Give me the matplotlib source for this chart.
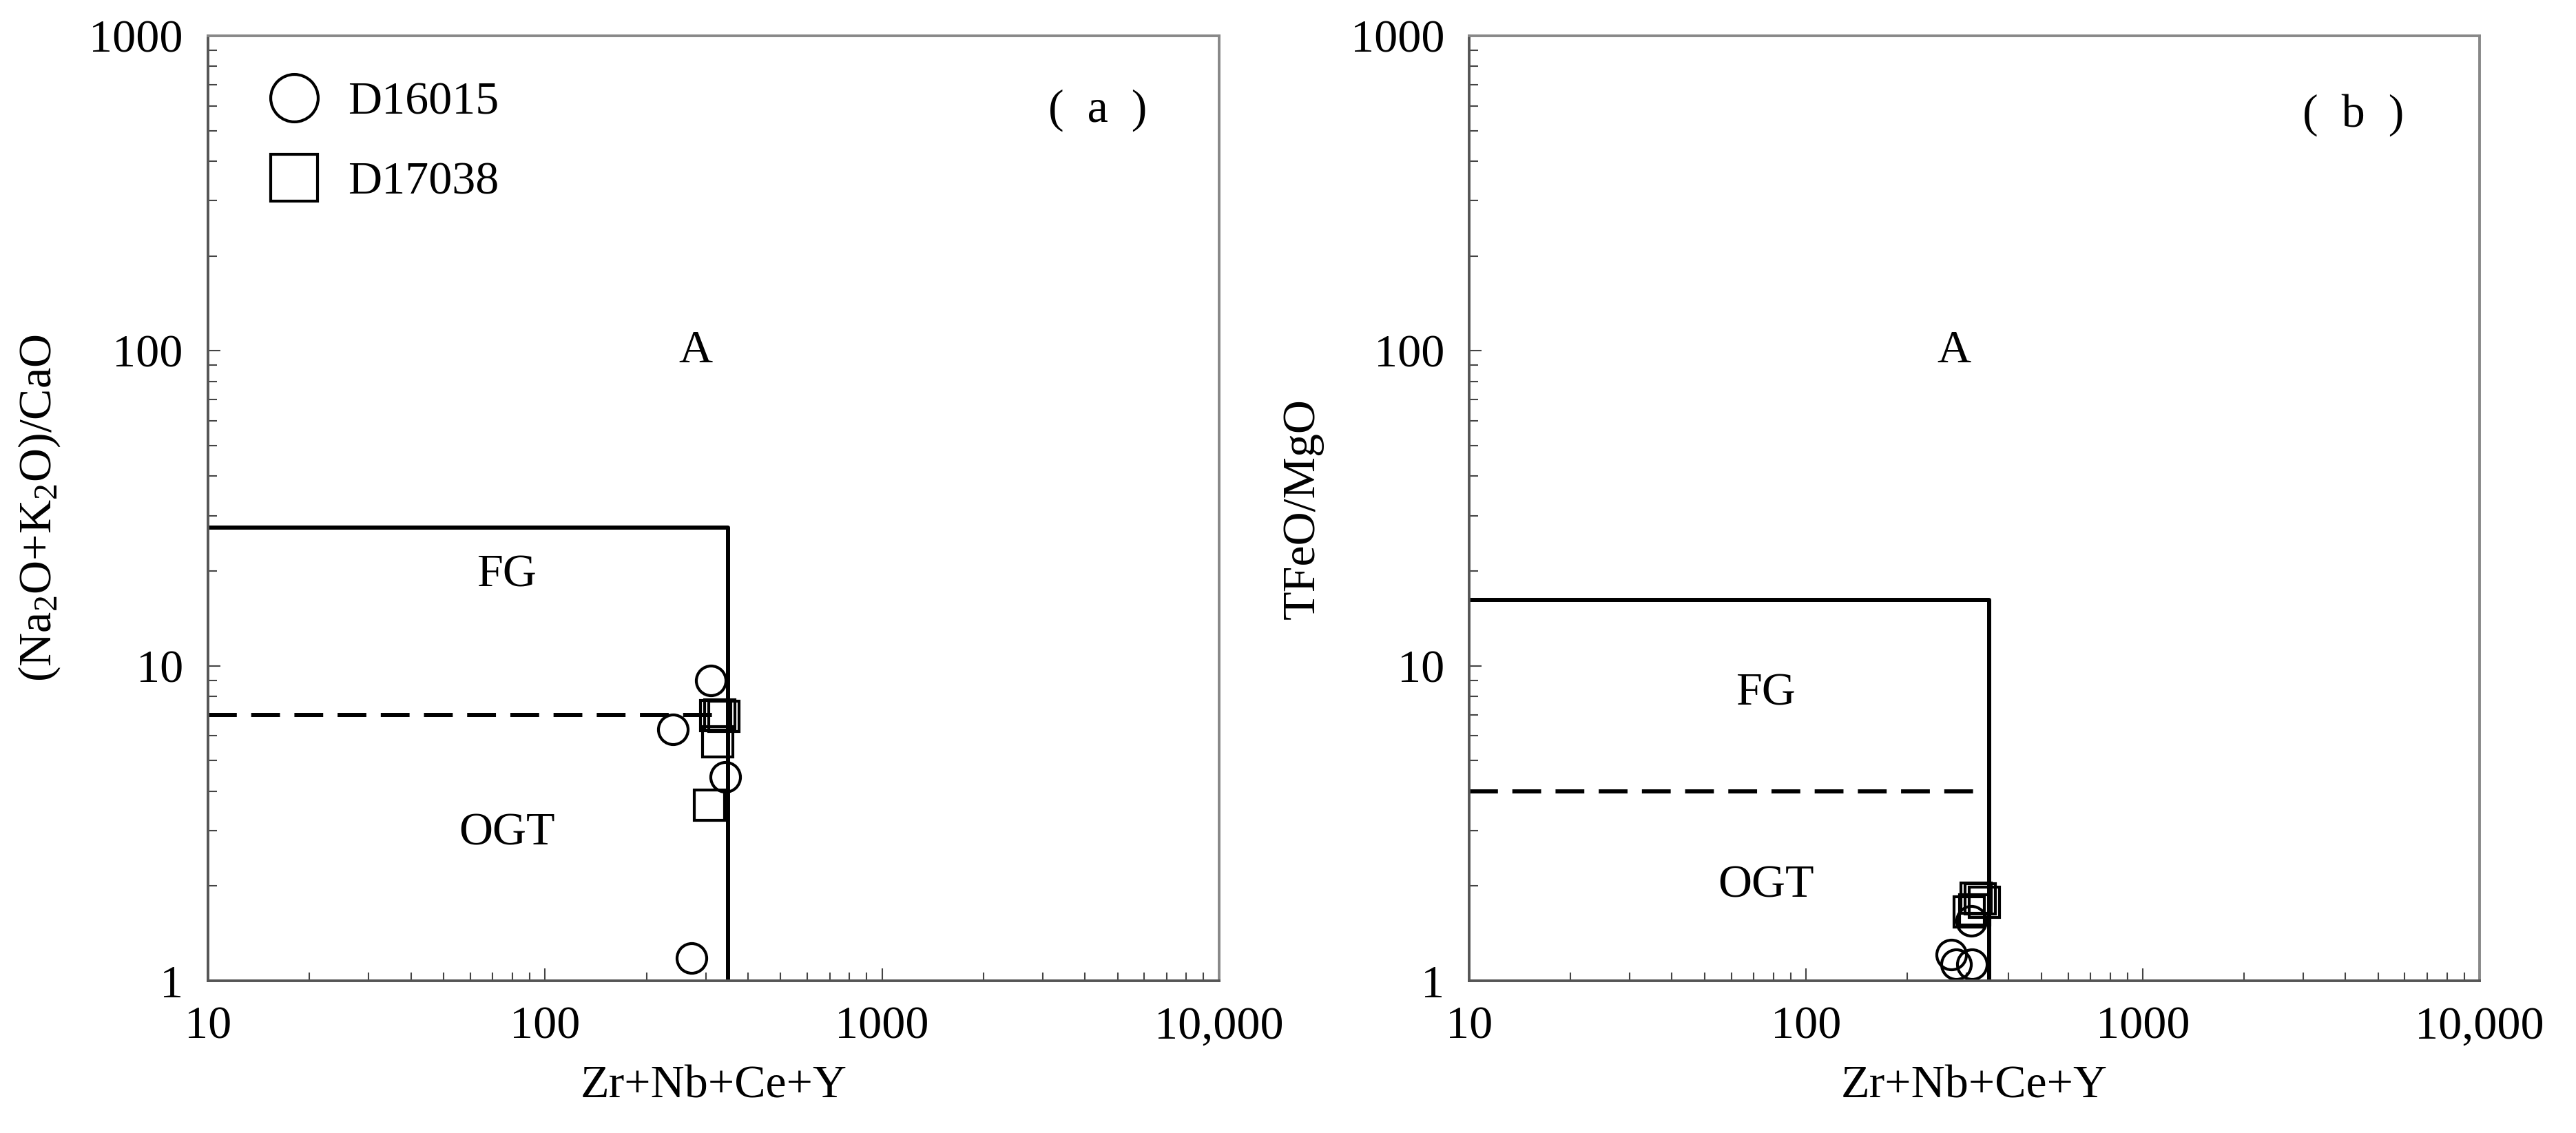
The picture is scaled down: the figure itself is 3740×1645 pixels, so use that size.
import numpy as np
import matplotlib.pyplot as plt
from matplotlib.ticker import LogLocator, FixedLocator, FixedFormatter, NullFormatter

plt.rcParams['font.family'] = ['Liberation Serif', 'Noto Sans CJK SC']
plt.rcParams['mathtext.fontset'] = 'custom'
plt.rcParams['mathtext.rm'] = 'Liberation Serif'
plt.rcParams['mathtext.it'] = 'Liberation Serif:italic'

# sample data, x = Zr+Nb+Ce+Y
a_circ_x = [310, 240, 342, 272]
a_circ_y = [8.98, 6.28, 4.44, 1.18]
a_sq_x = [321, 340, 330, 325, 307]
a_sq_y = [6.95, 6.93, 7.0, 5.74, 3.61]

b_circ_x = [310, 270, 279, 311]
b_circ_y = [1.55, 1.21, 1.128, 1.128]
b_sq_x = [305, 320, 329, 339, 317]
b_sq_y = [1.654, 1.83, 1.82, 1.776, 1.68]

# field boundaries
a_solid_x = [10, 350, 350]
a_solid_y = [27.5, 27.5, 1]
a_dash_x = [10, 350]
a_dash_y = [7, 7]
b_solid_x = [10, 350, 350]
b_solid_y = [16.2, 16.2, 1]
b_dash_x = [10, 350]
b_dash_y = [4, 4]

x_ticks = [10, 100, 1000, 10000]
x_ticklabels = ['10', '100', '1000', '10,000']
y_ticks = [1, 10, 100, 1000]
y_ticklabels = ['1', '10', '100', '1000']

FS = 49

fig = plt.figure(figsize=(37.41, 16.45), dpi=100)
ax_a = fig.add_axes([0.0807, 0.1343, 0.3924, 0.834])
ax_b = fig.add_axes([0.5702, 0.1343, 0.3921, 0.834])


def setup(ax, ylabel):
    ax.set_xscale('log')
    ax.set_yscale('log')
    ax.set_xlim(10, 10000)
    ax.set_ylim(1, 1000)
    ax.xaxis.set_major_locator(FixedLocator(x_ticks))
    ax.xaxis.set_major_formatter(FixedFormatter(x_ticklabels))
    ax.yaxis.set_major_locator(FixedLocator(y_ticks))
    ax.yaxis.set_major_formatter(FixedFormatter(y_ticklabels))
    ax.xaxis.set_minor_locator(LogLocator(base=10, subs=np.arange(2, 10)))
    ax.yaxis.set_minor_locator(LogLocator(base=10, subs=np.arange(2, 10)))
    ax.xaxis.set_minor_formatter(NullFormatter())
    ax.yaxis.set_minor_formatter(NullFormatter())
    ax.tick_params(which='major', direction='in', length=13, width=1.5,
                   color='#444444', labelsize=FS, pad=26)
    ax.tick_params(which='minor', direction='in', length=9, width=1.5,
                   color='#444444')
    for s in ['left', 'bottom']:
        ax.spines[s].set_color('#555555')
        ax.spines[s].set_linewidth(2.8)
    for s in ['top', 'right']:
        ax.spines[s].set_color('#888888')
        ax.spines[s].set_linewidth(2.8)
    ax.set_xlabel('Zr+Nb+Ce+Y', fontsize=FS, labelpad=18)
    ax.set_ylabel(ylabel, fontsize=FS, labelpad=28)


setup(ax_a, r'(Na$_\mathrm{2}$O+K$_\mathrm{2}$O)/CaO')
setup(ax_b, 'TFeO/MgO')

lw = 4.3
for ax, sx, sy, dx, dy in [(ax_a, a_solid_x, a_solid_y, a_dash_x, a_dash_y),
                           (ax_b, b_solid_x, b_solid_y, b_dash_x, b_dash_y)]:
    ax.plot(sx, sy, color='black', lw=lw, solid_capstyle='butt')
    ax.plot(dx, dy, color='black', lw=lw, dashes=(7, 3.5))

ms = 31
mew = 3.0
ax_a.plot(a_circ_x, a_circ_y, 'o', ms=ms, mfc='none', mec='black', mew=mew, label='D16015')
ax_a.plot(a_sq_x, a_sq_y, 's', ms=ms, mfc='none', mec='black', mew=mew, label='D17038')
ax_b.plot(b_circ_x, b_circ_y, 'o', ms=ms, mfc='none', mec='black', mew=mew)
ax_b.plot(b_sq_x, b_sq_y, 's', ms=ms, mfc='none', mec='black', mew=mew)

ax_a.legend(loc='upper left', bbox_to_anchor=(0.062, 0.952), frameon=False,
            fontsize=FS, markerscale=1.6, handlelength=1.0, handletextpad=0.65,
            labelspacing=0.8, borderpad=0, borderaxespad=0)

# field names
ax_a.text(280, 100, 'A', fontsize=FS, ha='center', va='center')
ax_a.text(77, 19.4, 'FG', fontsize=FS, ha='center', va='center')
ax_a.text(77, 2.94, 'OGT', fontsize=FS, ha='center', va='center')
ax_b.text(275, 100, 'A', fontsize=FS, ha='center', va='center')
ax_b.text(76, 8.16, 'FG', fontsize=FS, ha='center', va='center')
ax_b.text(76, 2.0, 'OGT', fontsize=FS, ha='center', va='center')

ax_a.text(0.88, 0.921, '(  a  )', transform=ax_a.transAxes, fontsize=FS,
          ha='center', va='center')
ax_b.text(0.875, 0.916, '(  b  )', transform=ax_b.transAxes, fontsize=FS,
          ha='center', va='center')

fig.savefig('out.png', dpi=100)
